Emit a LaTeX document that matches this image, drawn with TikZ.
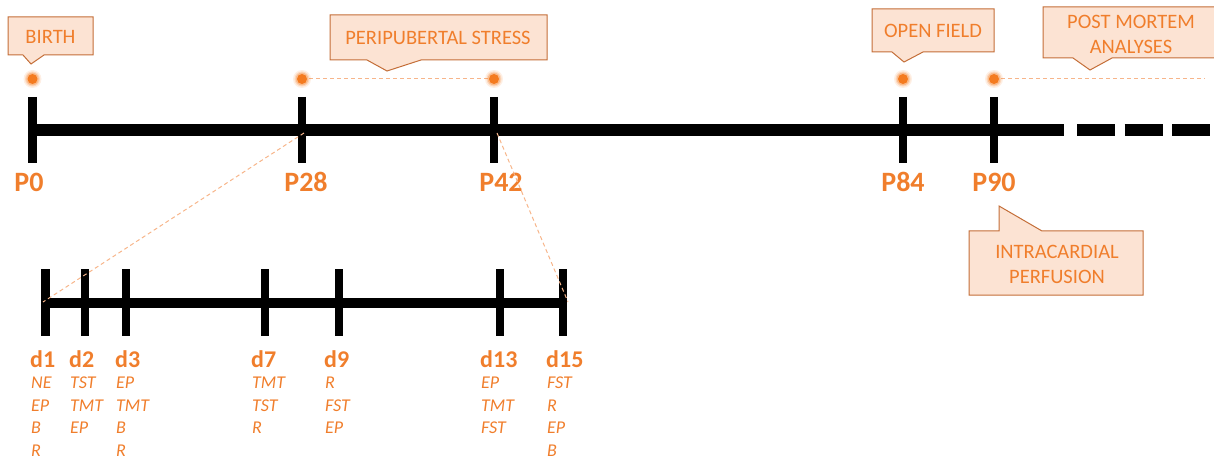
\documentclass[tikz,border=0pt]{standalone}
\usepackage{fontspec}
\setmainfont{Carlito}
\usetikzlibrary{calc}
\definecolor{txt}{HTML}{F07E2C}
\definecolor{cfill}{HTML}{FCE3D3}
\definecolor{cline}{HTML}{C46E38}
\definecolor{dashc}{HTML}{F7B58A}
\definecolor{dotc}{HTML}{F47B20}
\begin{document}
\begin{tikzpicture}[x=1pt,y=-1pt,
  mainbar/.style={line width=12pt,line cap=butt},
  subbar/.style={line width=10pt,line cap=butt},
  tickM/.style={line width=8.5pt,line cap=butt},
  tickS/.style={line width=8.5pt,line cap=butt},
  plab/.style={text=txt,font=\fontsize{28}{30}\selectfont\bfseries,anchor=base,inner sep=0pt},
  dlab/.style={text=txt,font=\fontsize{24}{26}\selectfont\bfseries,anchor=base west,inner sep=0pt},
  ilab/.style={text=txt,font=\fontsize{18}{22.5}\selectfont\itshape,anchor=north west,inner sep=0pt,align=left},
  ctext/.style={text=txt,font=\fontsize{20.5}{25}\selectfont,align=center,inner sep=0pt},
  callout/.style={fill=cfill,draw=cline,line width=1pt,line join=miter},
  zoomline/.style={draw=dashc,line width=1pt,dash pattern=on 4pt off 3pt},
]
\useasboundingbox (0,0) rectangle (1214,462);

% ---------- main timeline ----------
\foreach \n/\x in {P0/32.5,P28/302,P42/494,P84/903,P90/994}{
  \coordinate (\n) at (\x,130);
  \coordinate (dot\n) at (\x,79);
}
\coordinate (barend) at (1064,130);
\coordinate (dashstart) at (1077,130);
\coordinate (dashend) at (1214,130);
\draw[mainbar] (P0) -- (barend);
\draw[line width=12pt,dash pattern=on 38pt off 9.5pt] (dashstart) -- (dashend);
\foreach \n/\x in {P0/32.5,P28/302,P42/494,P84/903,P90/994}{
  \draw[tickM] (\x,97) -- (\x,163);
}

% period lines
\coordinate (pmEnd) at (1205,79);
\draw[zoomline] (dotP28) -- (dotP42);
\draw[zoomline] (dotP90) -- (pmEnd);

% glowing dots
\foreach \n in {P0,P28,P42,P84,P90}{
  \fill[dotc,opacity=0.12] (dot\n) circle (9);
  \fill[dotc,opacity=0.2] (dot\n) circle (7.5);
  \fill[dotc,opacity=0.3] (dot\n) circle (6.3);
  \fill[dotc] (dot\n) circle (5);
}

% P labels
\node[plab] (lP0) at (29,192) {P0};
\node[plab] (lP28) at (306,192) {P28};
\node[plab] (lP42) at (501,192) {P42};
\node[plab] (lP84) at (903,192) {P84};
\node[plab] (lP90) at (994,192) {P90};

% ---------- sub timeline ----------
\foreach \n/\x in {d1/45.5,d2/85,d3/126,d7/265,d9/339,d13/500,d15/563}{
  \coordinate (\n) at (\x,303);
}
\draw[subbar] (d1) -- (d15);
\foreach \x in {45.5,85,126,265,339,500,563}{
  \draw[tickS] (\x,269) -- (\x,336);
}

% zoom lines
\coordinate (zA) at (304,133);
\coordinate (zB) at (43,302);
\coordinate (zC) at (497,133);
\coordinate (zD) at (568,302);
\draw[zoomline] (zA) -- (zB);
\draw[zoomline] (zC) -- (zD);

% d labels
\node[dlab] (ld1) at (30,367) {d1};
\node[dlab] (ld2) at (69,367) {d2};
\node[dlab] (ld3) at (115,367) {d3};
\node[dlab] (ld7) at (251,367) {d7};
\node[dlab] (ld9) at (324,367) {d9};
\node[dlab] (ld13) at (480,367) {d13};
\node[dlab] (ld15) at (546,367) {d15};

\node[ilab] (i1) at (31,377) {NE\\EP\\B\\R};
\node[ilab] (i2) at (70,377) {TST\\TMT\\EP};
\node[ilab] (i3) at (116,377) {EP\\TMT\\B\\R};
\node[ilab] (i7) at (252,377) {TMT\\TST\\R};
\node[ilab] (i9) at (325,377) {R\\FST\\EP};
\node[ilab] (i13) at (481,377) {EP\\TMT\\FST};
\node[ilab] (i15) at (547,377) {FST\\R\\EP\\B};

% ---------- callouts ----------
% BIRTH
\draw[callout] (8,17) -- (93,17) -- (93,55) -- (44,55) -- (31,64) -- (23,55) -- (8,55) -- cycle;
\node[ctext] (cBirth) at (50.5,37) {BIRTH};
% PERIPUBERTAL STRESS
\draw[callout] (330,15) -- (547,15) -- (547,60) -- (421,60) -- (387,71) -- (367,60) -- (330,60) -- cycle;
\node[ctext] (cStress) at (438,38) {PERIPUBERTAL STRESS};
% OPEN FIELD
\draw[callout] (872,9) -- (994,9) -- (994,52) -- (923,52) -- (904,62) -- (892,52) -- (872,52) -- cycle;
\node[ctext] (cOF) at (933,31) {OPEN FIELD};
% POST MORTEM
\draw[callout] (1043,7) -- (1216,7) -- (1216,58) -- (1112,58) -- (1090,70) -- (1073,58) -- (1043,58) -- cycle;
\node[ctext] (cPM) at (1131,34) {POST MORTEM\\ANALYSES};
% INTRACARDIAL PERFUSION
\draw[callout] (969,231) -- (999,231) -- (999,206) -- (1042,231) -- (1143,231) -- (1143,295) -- (969,295) -- cycle;
\node[ctext] (cIP) at (1057,264) {INTRACARDIAL\\PERFUSION};
\end{tikzpicture}
\end{document}
